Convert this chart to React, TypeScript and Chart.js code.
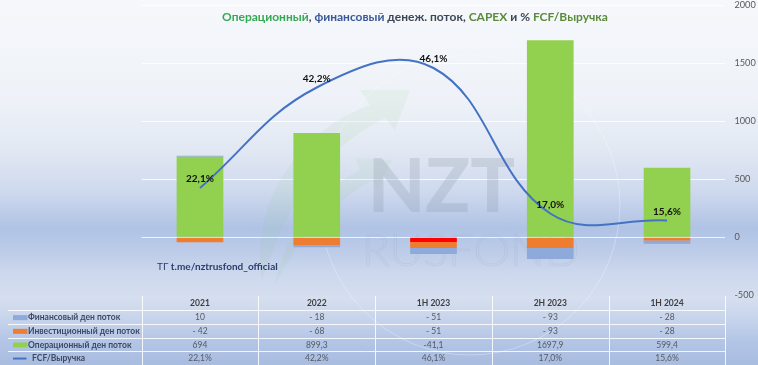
import React, { useEffect, useRef } from "react";
import { Chart, registerables } from "chart.js";

Chart.register(...registerables);

// ---- data ----
const categories = ["2021", "2022", "1H 2023", "2H 2023", "1H 2024"];
const financialFlow = [10, -18, -51, -93, -28];
const investingFlow = [-42, -68, -51, -93, -28];
const operatingFlow = [694, 899.3, -41.1, 1697.9, 599.4];
const fcfToRevenue = [22.1, 42.2, 46.1, 17.0, 15.6];
const yTicks = [2000, 1500, 1000, 500, 0, -500];
const seriesNames = [
  "Финансовый ден поток",
  "Инвестиционный ден поток",
  "Операционный ден поток",
  "FCF/Выручка",
];
const titleParts = [
  { text: "Операционный", color: "#35a853" },
  { text: ", ", color: "#3d4656" },
  { text: "финансовый", color: "#3b5897" },
  { text: " денеж. поток, ", color: "#3d4656" },
  { text: "CAPEX", color: "#5b8a3c" },
  { text: " и % ", color: "#3d4656" },
  { text: "FCF/Выручка", color: "#5b8a3c" },
];
const tgPrefix = "ТГ ";
const tgLink = "t.me/nztrusfond_official";

const C_GREEN = "#92d050";
const C_RED = "#ff0000";
const C_ORANGE = "#ee7d31";
const C_BLUE = "#8eaadb";
const C_LINE = "#4472c4";

const FONT = "Lato, 'Open Sans', sans-serif";

const fmtComma = (v: number) => String(v).replace(".", ",");
const fmtSpaced = (v: number) => (v < 0 ? "- " + fmtComma(Math.abs(v)) : fmtComma(v));
const fmtPct = (v: number) => v.toFixed(1).replace(".", ",") + "%";

const watermarkPlugin = {
  id: "watermark",
  beforeDatasetsDraw(chart: any) {
    const ctx = chart.ctx;
    ctx.save();
    // faint circle
    ctx.strokeStyle = "rgba(255,255,255,0.3)";
    ctx.lineWidth = 1;
    ctx.beginPath();
    ctx.arc(470, 205, 150, 0, Math.PI * 2);
    ctx.stroke();
    // faint green swoosh arrows
    ctx.fillStyle = "rgba(130,195,120,0.09)";
    ctx.beginPath();
    ctx.moveTo(262, 280);
    ctx.bezierCurveTo(250, 200, 300, 130, 370, 105);
    ctx.lineTo(360, 90);
    ctx.lineTo(410, 90);
    ctx.lineTo(395, 130);
    ctx.lineTo(385, 118);
    ctx.bezierCurveTo(320, 150, 285, 210, 262, 280);
    ctx.closePath();
    ctx.fill();
    ctx.beginPath();
    ctx.moveTo(275, 285);
    ctx.bezierCurveTo(285, 230, 320, 190, 360, 170);
    ctx.lineTo(355, 158);
    ctx.lineTo(392, 160);
    ctx.lineTo(378, 190);
    ctx.lineTo(372, 180);
    ctx.bezierCurveTo(330, 205, 298, 240, 275, 285);
    ctx.closePath();
    ctx.fill();
    // NZT letters
    ctx.fillStyle = "rgba(135,145,165,0.24)";
    ctx.font = `900 74px ${FONT}`;
    ctx.textBaseline = "alphabetic";
    ctx.textAlign = "left";
    ctx.fillText("NZT", 368, 212);
    ctx.strokeStyle = "rgba(150,160,180,0.22)";
    ctx.lineWidth = 0.7;
    ctx.font = `300 46px ${FONT}`;
    ctx.strokeText("RUSFOND", 362, 266);
    ctx.restore();
  },
};

const overlayPlugin = {
  id: "overlay",
  afterDraw(chart: any) {
    const ctx = chart.ctx;
    const area = chart.chartArea;
    const xs = chart.scales.x;
    const n = categories.length;
    const colW = (area.right - area.left) / n;

    ctx.save();
    // percent labels above line points
    const lineMeta = chart.getDatasetMeta(0);
    ctx.font = `bold 10px ${FONT}`;
    ctx.fillStyle = "#111111";
    ctx.textAlign = "center";
    ctx.textBaseline = "middle";
    lineMeta.data.forEach((pt: any, i: number) => {
      ctx.fillText(fmtPct(fcfToRevenue[i]), pt.x, pt.y - 9);
    });

    // title
    ctx.font = `bold 12px ${FONT}`;
    ctx.textAlign = "left";
    ctx.textBaseline = "middle";
    const total = titleParts.reduce((s, p) => s + ctx.measureText(p.text).width, 0);
    let tx = 415 - total / 2;
    titleParts.forEach((p) => {
      ctx.fillStyle = p.color;
      ctx.fillText(p.text, tx, 17);
      tx += ctx.measureText(p.text).width;
    });

    // telegram link
    ctx.fillStyle = "#2c3c6c";
    ctx.font = `10px ${FONT}`;
    ctx.fillText(tgPrefix, 157, 267);
    const pw = ctx.measureText(tgPrefix).width;
    ctx.font = `bold 10px ${FONT}`;
    ctx.fillText(tgLink, 157 + pw, 267);

    // data table
    const headerMid = 303;
    const rowTops = [310.3, 324, 337.6, 351.2];
    const rowH = 13.7;
    const tableLeft = 8;
    ctx.strokeStyle = "rgba(255,255,255,0.85)";
    ctx.lineWidth = 1;
    rowTops.forEach((t) => {
      ctx.beginPath();
      ctx.moveTo(tableLeft, Math.round(t) + 0.5);
      ctx.lineTo(area.right, Math.round(t) + 0.5);
      ctx.stroke();
    });
    for (let k = 0; k <= n; k++) {
      const x = Math.round(area.left + k * colW) + 0.5;
      ctx.beginPath();
      ctx.moveTo(x, 296);
      ctx.lineTo(x, 365);
      ctx.stroke();
    }

    // header
    ctx.textAlign = "center";
    ctx.fillStyle = "#404040";
    ctx.font = `bold 8.5px ${FONT}`;
    categories.forEach((c, i) => {
      ctx.fillText(c, xs.getPixelForValue(i), headerMid);
    });

    const rows = [
      financialFlow.map(fmtSpaced),
      investingFlow.map(fmtSpaced),
      operatingFlow.map(fmtComma),
      fcfToRevenue.map(fmtPct),
    ];
    ctx.fillStyle = "#555a63";
    ctx.font = `8.5px ${FONT}`;
    rows.forEach((r, ri) => {
      const cy = rowTops[ri] + rowH / 2 + 0.5;
      r.forEach((s, i) => ctx.fillText(s, xs.getPixelForValue(i), cy));
    });

    // left labels with legend keys
    const legendColors = [C_BLUE, C_ORANGE, C_GREEN];
    ctx.textAlign = "left";
    ctx.font = `bold 8.5px ${FONT}`;
    seriesNames.forEach((name, ri) => {
      const cy = rowTops[ri] + rowH / 2 + 0.5;
      if (ri < 3) {
        ctx.fillStyle = legendColors[ri];
        ctx.fillRect(13, cy - 2.5, 14.5, 5);
      } else {
        ctx.strokeStyle = C_LINE;
        ctx.lineWidth = 2;
        ctx.beginPath();
        ctx.moveTo(13, cy);
        ctx.lineTo(26.5, cy);
        ctx.stroke();
      }
      ctx.fillStyle = "#3e4861";
      ctx.fillText(name, ri < 3 ? 28 : 32, cy);
    });
    ctx.restore();
  },
};

export default function App() {
  const canvasRef = useRef<HTMLCanvasElement | null>(null);

  useEffect(() => {
    document.body.style.margin = "0";
    const canvas = canvasRef.current;
    if (!canvas) return;
    const chart = new Chart(canvas, {
      type: "bar",
      data: {
        labels: categories,
        datasets: [
          {
            type: "line",
            label: seriesNames[3],
            data: fcfToRevenue,
            yAxisID: "y1",
            borderColor: C_LINE,
            borderWidth: 2,
            tension: 0.4,
            pointRadius: 0,
            fill: false,
            order: 0,
          } as any,
          {
            label: seriesNames[2],
            data: operatingFlow,
            backgroundColor: operatingFlow.map((v) => (v < 0 ? C_RED : C_GREEN)),
            stack: "cf",
            yAxisID: "y",
            order: 1,
          },
          {
            label: seriesNames[1],
            data: investingFlow,
            backgroundColor: C_ORANGE,
            stack: "cf",
            yAxisID: "y",
            order: 1,
          },
          {
            label: seriesNames[0],
            data: financialFlow,
            backgroundColor: C_BLUE,
            stack: "cf",
            yAxisID: "y",
            order: 1,
          },
        ],
      },
      options: {
        responsive: false,
        animation: false,
        events: [],
        categoryPercentage: 1,
        barPercentage: 0.4,
        layout: { padding: { left: 141.6, right: 0, top: 5.3, bottom: 69.7 } },
        plugins: {
          legend: { display: false },
          tooltip: { enabled: false },
          title: { display: false },
        },
        scales: {
          x: { display: false, stacked: true, grid: { display: false } },
          y: {
            position: "right",
            stacked: true,
            min: -500,
            max: 2000,
            afterBuildTicks: (s: any) => {
              s.ticks = yTicks.map((v) => ({ value: v }));
            },
            afterFit: (s: any) => {
              s.width = 758 - 725.4;
              s.paddingTop = 0;
              s.paddingBottom = 0;
            },
            ticks: {
              color: "#595959",
              font: { family: FONT, size: 9.2 },
              padding: 9,
              callback: (v: any) => String(v),
            },
            grid: {
              drawTicks: false,
              color: (c: any) => (c.tick && c.tick.value === -500 ? "rgba(0,0,0,0)" : "rgba(255,255,255,0.8)"),
            },
            border: { display: false },
          },
          y1: { display: false, min: 0.64, max: 58.64 },
        },
      } as any,
      plugins: [watermarkPlugin, overlayPlugin],
    });
    return () => chart.destroy();
  }, []);

  return (
    <div
      style={{
        position: "relative",
        width: 758,
        height: 365,
        overflow: "hidden",
        background:
          "linear-gradient(to bottom, #f6f8fb 0px, #eef2f8 100px, #e2e8f3 150px, #cfdaee 190px, #b0c3e5 228px, #bccbe8 250px, #cbd7ed 272px, #d6dfef 298px, #c6d3eb 320px, #b4c6e6 340px, #a8bce0 365px)",
      }}
    >
      <canvas ref={canvasRef} width={758} height={365} style={{ display: "block" }} />
    </div>
  );
}
